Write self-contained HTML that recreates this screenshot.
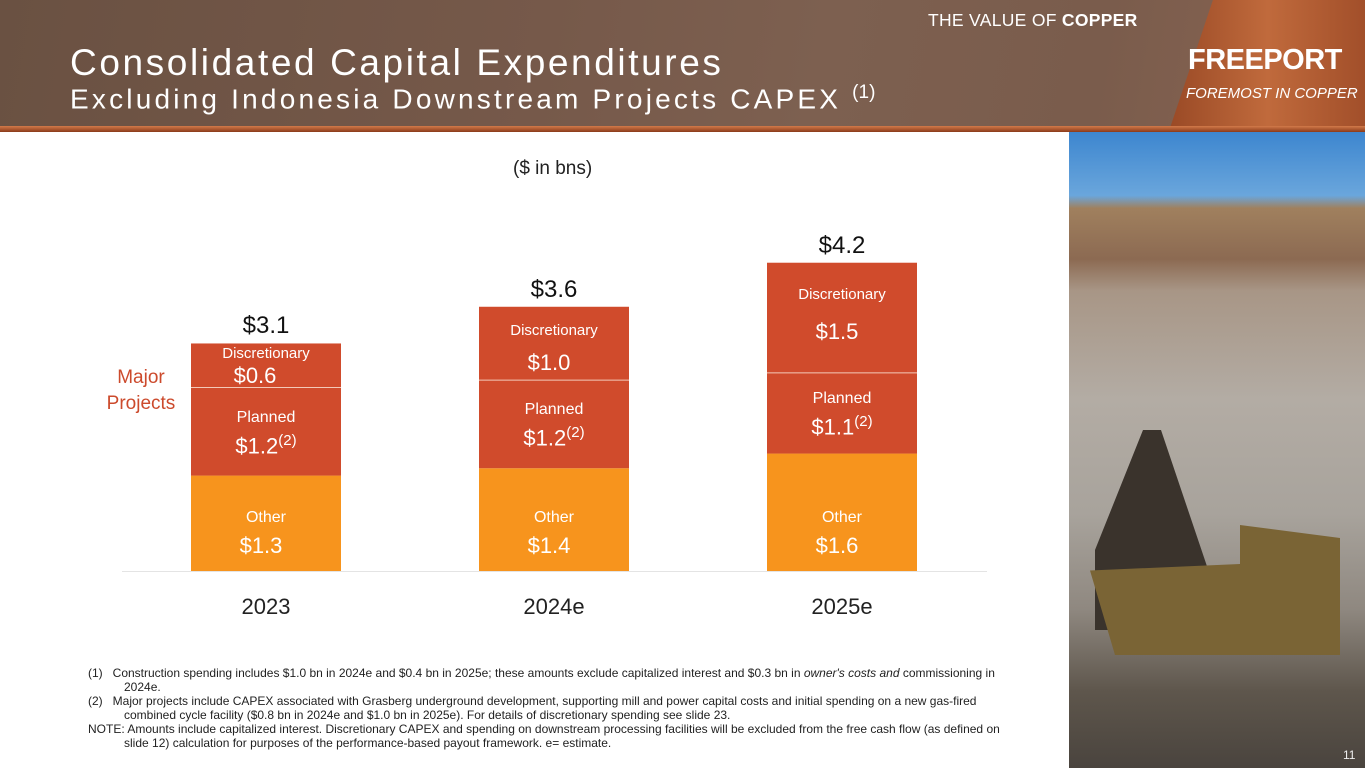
<!DOCTYPE html>
<html><head><meta charset="utf-8"><style>
*{margin:0;padding:0;box-sizing:border-box}
body{width:1365px;height:768px;position:relative;overflow:hidden;background:#fff;font-family:"Liberation Sans",sans-serif}
.abs{position:absolute}
.hdr{left:0;top:0;width:1365px;height:128px;background:linear-gradient(100deg,#6a5142 0%,#76594a 40%,#7d6050 60%,#7a5c4c 80%,#8a6552 100%)}
.hdr2{left:1170px;top:0;width:195px;height:128px;background:linear-gradient(90deg,#9a4a26,#c06a3c 50%,#a24f2a);clip-path:polygon(22% 0,100% 0,100% 100%,0 100%)}
.hline{left:0;top:126px;width:1365px;height:6px;background:linear-gradient(180deg,#d27a4a,#8a3a1a)}
.ftxt{font-size:12px;color:#222;line-height:14px}
</style></head><body>
<div class="abs hdr"></div>
<div class="abs hdr2"></div>
<div class="abs hline"></div>
<div class="abs" style="left:928px;top:10px;font-size:17.5px;color:#fff;letter-spacing:0.3px">THE VALUE OF <b>COPPER</b></div>
<div class="abs" style="left:70px;top:42px;font-size:37px;color:#fff;letter-spacing:2.6px">Consolidated Capital Expenditures</div>
<div class="abs" style="left:70px;top:82px;font-size:28px;color:#fff;letter-spacing:3.2px">Excluding Indonesia Downstream Projects CAPEX <sup style="font-size:19px;letter-spacing:0">(1)</sup></div>
<div class="abs" style="left:1188px;top:44px;font-size:29px;font-weight:bold;color:#fff;letter-spacing:-0.5px">FREEPORT</div>
<div class="abs" style="left:1186px;top:85px;font-size:15px;font-style:italic;color:#fff">FOREMOST IN COPPER</div>

<div class="abs" style="left:1069px;top:132px;width:296px;height:636px;background:linear-gradient(180deg,#3d86cf 0%,#6aa6dc 10%,#a0805e 12%,#8c6a52 20%,#a89686 25%,#b3aca4 42%,#a8a39c 60%,#8f8880 75%,#5e564c 88%,#4a443e 100%)"></div>
<div class="abs" style="left:1095px;top:430px;width:120px;height:200px;background:#3a332c;clip-path:polygon(40% 0,55% 0,100% 80%,100% 100%,0 100%,0 60%)"></div>
<div class="abs" style="left:1090px;top:525px;width:250px;height:130px;background:#7a6435;clip-path:polygon(0 35%,60% 30%,60% 0,100% 10%,100% 100%,10% 100%)"></div>
<div class="abs" style="left:1343px;top:748px;font-size:12px;color:#eee">11</div>

<div class="abs" style="left:513px;top:158px;font-size:19px;color:#222">($ in bns)</div>
<div class="abs" style="left:96px;top:365px;width:90px;text-align:center;font-size:19px;line-height:26px;color:#cc4a2c">Major Projects</div>

<svg class="abs" id="chart" style="left:0;top:0" width="1060" height="640"></svg>
<div id="labels"></div>

<div class="abs ftxt" style="left:88px;top:666px;width:915px">
<div style="padding-left:36px;text-indent:-36px">(1)&nbsp;&nbsp;&nbsp;Construction spending includes $1.0 bn in 2024e and $0.4 bn in 2025e; these amounts exclude capitalized interest and $0.3 bn in <i>owner's costs and</i> commissioning in 2024e.</div>
<div style="padding-left:36px;text-indent:-36px">(2)&nbsp;&nbsp;&nbsp;Major projects include CAPEX associated with Grasberg underground development, supporting mill and power capital costs and initial spending on a new gas-fired combined cycle facility ($0.8 bn in 2024e and $1.0 bn in 2025e). For details of discretionary spending see slide 23.</div>
<div style="padding-left:36px;text-indent:-36px">NOTE: Amounts include capitalized interest. Discretionary CAPEX and spending on downstream processing facilities will be excluded from the free cash flow (as defined on slide 12) calculation for purposes of the performance-based payout framework. e= estimate.</div>
</div>

<script>
const categories=["2023","2024e","2025e"];
const otherVals=[1.3,1.4,1.6];
const plannedVals=[1.2,1.2,1.1];
const discVals=[0.6,1.0,1.5];
const totalLabels=["$3.1","$3.6","$4.2"];
const otherLabels=["$1.3","$1.4","$1.6"];
const plannedLabels=["$1.2","$1.2","$1.1"];
const discLabels=["$0.6","$1.0","$1.5"];

const NS="http://www.w3.org/2000/svg";
const svg=document.getElementById('chart');
const lab=document.getElementById('labels');
const baseY=571, pxPerUnit=73.4, barW=150;
const xPos=i=>191+i*288;
const y=v=>baseY-v*pxPerUnit;
function rect(x,yy,w,h,fill,name){const r=document.createElementNS(NS,'rect');r.setAttribute('x',x);r.setAttribute('y',yy);r.setAttribute('width',w);r.setAttribute('height',h);r.setAttribute('fill',fill);


svg.appendChild(r);return r;}
function text(x,yy,s,size,color,name,html){const d=document.createElement('div');d.className='abs';d.style.cssText=`left:${x-100}px;top:${yy}px;width:200px;text-align:center;font-size:${size}px;color:${color};line-height:1`;if(html)d.innerHTML=s;else d.textContent=s;


lab.appendChild(d);}
const ax=document.createElementNS(NS,'line');ax.setAttribute('x1',122);ax.setAttribute('x2',987);ax.setAttribute('y1',baseY+0.5);ax.setAttribute('y2',baseY+0.5);ax.setAttribute('stroke','#e4e4e4');


svg.appendChild(ax);
categories.forEach((c,i)=>{
 const x=xPos(i),cx=x+barW/2;
 const o=otherVals[i],p=plannedVals[i],d=discVals[i];
 rect(x,y(o),barW,o*pxPerUnit,'#f7941d','bar-other-'+c);
 rect(x,y(o+p),barW,p*pxPerUnit,'#d04b2c','bar-planned-'+c);
 rect(x,y(o+p+d),barW,d*pxPerUnit,'#d04b2c','bar-discretionary-'+c);
 const l=document.createElementNS(NS,'line');l.setAttribute('x1',x);l.setAttribute('x2',x+barW);l.setAttribute('y1',y(o+p));l.setAttribute('y2',y(o+p));l.setAttribute('stroke','#f3c9b8');l.setAttribute('stroke-width',1);
 
 
 svg.appendChild(l);
 const top=y(o+p+d);
 text(cx,top-29,totalLabels[i],24,'#111','total-label-'+c);
 text(cx,baseY+25,c,22,'#222','x-tick-'+c);
 text(cx,baseY-61,'Other',16,'#fff','other-name-'+c);
 text(cx-5,baseY-36,otherLabels[i],22,'#fff','other-value-'+c);
 const pt=y(o+p), pb=y(o);
 const pm=(pt+pb)/2;
 text(cx,pm-22,'Planned',16,'#fff','planned-name-'+c);
 text(cx,pm+1,plannedLabels[i]+'<sup style="font-size:15px">(2)</sup>',22,'#fff','planned-value-'+c,true);
 const dh=d*pxPerUnit;
 if(dh<60){text(cx,top+3,'Discretionary',15,'#fff','disc-name-'+c);text(cx-11,top+22,discLabels[i],22,'#fff','disc-value-'+c);}
 else{text(cx,top+dh*0.22,'Discretionary',15,'#fff','disc-name-'+c);text(cx-5,top+20+dh*0.35,discLabels[i],22,'#fff','disc-value-'+c);}
});
</script>
</body></html>
